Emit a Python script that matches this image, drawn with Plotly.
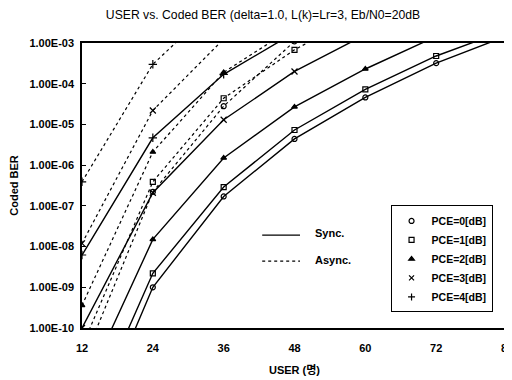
import plotly.graph_objects as go

users = [12, 24, 36, 48, 60, 72, 84]

# Sync. (solid) coded BER per PCE
sync_pce0 = [8e-14, 1.0e-9, 1.7e-7, 4.4e-6, 4.6e-5, 3.2e-4, 1.5e-3]
sync_pce1 = [2.5e-13, 2.2e-9, 2.9e-7, 7.3e-6, 7.3e-5, 4.8e-4, 2.1e-3]
sync_pce2 = [2.5e-12, 1.5e-8, 1.5e-6, 2.7e-5, 2.3e-4, 1.45e-3, None]
sync_pce3 = [1.0e-10, 2.1e-7, 1.3e-5, 2.0e-4, 1.6e-3, None, None]
sync_pce4 = [6.2e-9, 4.7e-6, 1.7e-4, 1.8e-3, None, None, None]

# Async. (dotted) coded BER per PCE
async_pce0 = [1.3e-11, 2.2e-7, 2.8e-5, 1.1e-3, None, None, None]
async_pce1 = [3.5e-11, 3.9e-7, 4.4e-5, 6.8e-4, 6e-3, None, None]
async_pce2 = [3.6e-10, 2.1e-6, 1.9e-4, 2.5e-3, None, None, None]
async_pce3 = [1.2e-8, 2.2e-5, 1.25e-3, None, None, None, None]
async_pce4 = [3.9e-7, 3.0e-4, 1.3e-2, None, None, None, None]

pce_labels = ["PCE=0[dB]", "PCE=1[dB]", "PCE=2[dB]", "PCE=3[dB]", "PCE=4[dB]"]
symbols = ["circle-open", "square-open", "triangle-up", "x-thin-open", "cross-thin-open"]
sizes = [5, 5, 5, 6, 6]

y_tickvals = [1e-3, 1e-4, 1e-5, 1e-6, 1e-7, 1e-8, 1e-9, 1e-10]
y_ticktext = ["1.00E-03", "1.00E-04", "1.00E-05", "1.00E-06",
              "1.00E-07", "1.00E-08", "1.00E-09", "1.00E-10"]
x_tickvals = [12, 24, 36, 48, 60, 72, 84]

sync_sets = [sync_pce0, sync_pce1, sync_pce2, sync_pce3, sync_pce4]
async_sets = [async_pce0, async_pce1, async_pce2, async_pce3, async_pce4]

fig = go.Figure()
for i, ys in enumerate(sync_sets):
    fig.add_trace(go.Scatter(
        x=users, y=ys, mode="lines+markers", showlegend=False,
        line=dict(color="black", width=1.4),
        marker=dict(symbol=symbols[i], size=sizes[i], color="black",
                    line=dict(color="black", width=1.2)),
        connectgaps=False))
for i, ys in enumerate(async_sets):
    fig.add_trace(go.Scatter(
        x=users, y=ys, mode="lines+markers", showlegend=False,
        line=dict(color="black", width=1.2, dash="dot"),
        marker=dict(symbol=symbols[i], size=sizes[i], color="black",
                    line=dict(color="black", width=1.2)),
        connectgaps=False))
# legend entries (markers only)
for i, lab in enumerate(pce_labels):
    fig.add_trace(go.Scatter(
        x=[None], y=[None], mode="markers", name=lab,
        marker=dict(symbol=symbols[i], size=5, color="black",
                    line=dict(color="black", width=1.2))))

font_main = dict(family="Liberation Sans, Arial, sans-serif", color="black")

# page body has an 8px default margin, so the figure is 504x372
fig.update_layout(
    width=504, height=372,
    margin=dict(l=74, r=5, t=35, b=52, autoexpand=False),
    paper_bgcolor="white", plot_bgcolor="white",
    font=dict(**font_main, size=11),
    title=dict(text="USER vs. Coded BER (delta=1.0, L(k)=Lr=3, Eb/N0=20dB",
               x=0.506, xanchor="center", y=0.981, yanchor="middle",
               font=dict(**font_main, size=12.2)),
    legend=dict(x=0.726, y=0.43, xanchor="left", yanchor="top",
                bordercolor="black", borderwidth=1, bgcolor="white",
                font=dict(**font_main, size=10.5, weight="bold"),
                tracegroupgap=0, itemwidth=30),
    showlegend=True,
)
fig.update_xaxes(
    range=[12, 84], tickvals=x_tickvals, ticks="", automargin=False,
    ticklabeloverflow="allow",
    showline=True, mirror=True, linecolor="black", linewidth=1.5,
    showgrid=False, zeroline=False, ticklabelstandoff=9,
    tickfont=dict(**font_main, size=11, weight="bold"),
    title=dict(text="USER (명)", standoff=13,
               font=dict(family="Liberation Sans, Noto Sans CJK KR, sans-serif",
                         color="black", size=11, weight="bold")))
fig.update_yaxes(
    type="log", range=[-10, -3], tickvals=y_tickvals, ticktext=y_ticktext,
    ticks="inside", ticklen=4, tickcolor="black", automargin=False,
    showline=True, mirror=True, linecolor="black", linewidth=1.5,
    showgrid=False, zeroline=False, ticklabelstandoff=4,
    tickfont=dict(**font_main, size=11, weight="bold"),
    title=dict(text="Coded BER", standoff=13,
               font=dict(**font_main, size=11, weight="bold")))

# Sync./Async. line-style key
fig.add_shape(type="line", xref="paper", yref="paper",
              x0=0.424, x1=0.513, y0=0.326, y1=0.326,
              line=dict(color="black", width=1.4))
fig.add_shape(type="line", xref="paper", yref="paper",
              x0=0.424, x1=0.513, y0=0.235, y1=0.235,
              line=dict(color="black", width=1.2, dash="dot"))
fig.add_annotation(text="Sync.", xref="paper", yref="paper", x=0.543, y=0.333,
                   xanchor="left", yanchor="middle", showarrow=False,
                   font=dict(**font_main, size=11, weight="bold"))
fig.add_annotation(text="Async.", xref="paper", yref="paper", x=0.543, y=0.24,
                   xanchor="left", yanchor="middle", showarrow=False,
                   font=dict(**font_main, size=11, weight="bold"))

fig.write_html("out.html")
